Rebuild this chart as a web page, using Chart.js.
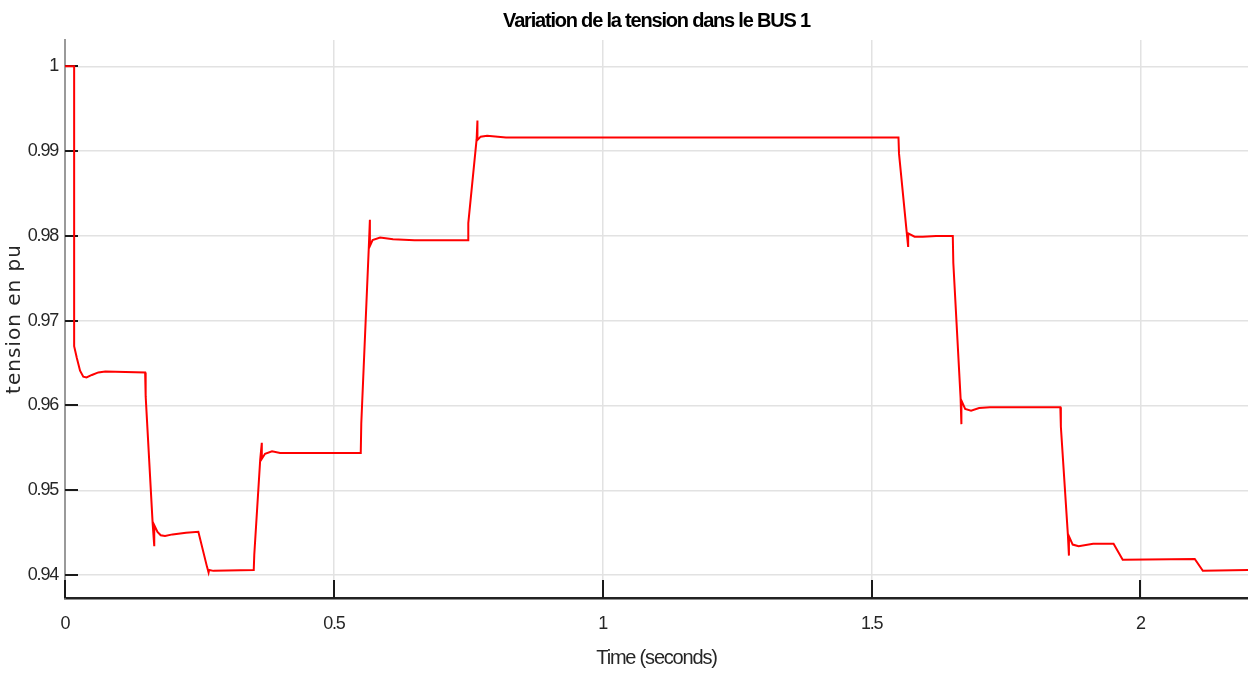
<!DOCTYPE html>
<html>
<head>
<meta charset="utf-8">
<title>Variation de la tension dans le BUS 1</title>
<script src="https://cdn.jsdelivr.net/npm/chart.js@4/dist/chart.umd.min.js"></script>
<style>
  html, body { margin: 0; padding: 0; background: #fff; }
  #chart { display: block; }
</style>
</head>
<body>
<canvas id="chart" width="1248" height="675"></canvas>
<script>
const timeSeconds = [
  0, 0.017, 0.017, 0.022, 0.028, 0.034, 0.040, 0.050, 0.062, 0.075,
  0.149, 0.150, 0.163, 0.166, 0.166, 0.172, 0.178, 0.186, 0.200, 0.225,
  0.248, 0.264, 0.267, 0.268, 0.276, 0.351, 0.352, 0.363, 0.366, 0.366,
  0.372, 0.385, 0.400, 0.550, 0.551, 0.565, 0.567, 0.567, 0.572, 0.586,
  0.610, 0.650, 0.750, 0.750, 0.7655, 0.767, 0.767, 0.773, 0.785, 0.820,
  1.550, 1.551, 1.5655, 1.568, 1.568, 1.580, 1.595, 1.620, 1.651, 1.652,
  1.6655, 1.667, 1.667, 1.674, 1.685, 1.700, 1.720, 1.851, 1.852, 1.865,
  1.867, 1.867, 1.874, 1.885, 1.912, 1.950, 1.967, 2.101, 2.116, 2.2
];
const tensionPu = [
  1.0000, 1.0000, 0.9670, 0.9656, 0.9641, 0.9634, 0.9633, 0.9636, 0.9639, 0.9640,
  0.9639, 0.9611, 0.9461, 0.9434, 0.9459, 0.9451, 0.9447, 0.9446, 0.9448, 0.9450,
  0.9451, 0.9410, 0.9403, 0.9406, 0.9405, 0.9406, 0.9424, 0.9536, 0.9556, 0.9537,
  0.9543, 0.9546, 0.9544, 0.9544, 0.9579, 0.9787, 0.9819, 0.9788, 0.9795, 0.9798,
  0.9796, 0.9795, 0.9795, 0.9815, 0.9914, 0.9936, 0.9913, 0.9917, 0.9918, 0.9916,
  0.9916, 0.9897, 0.9803, 0.9787, 0.9803, 0.9799, 0.9799, 0.9800, 0.9800, 0.9768,
  0.9609, 0.9578, 0.9606, 0.9596, 0.9594, 0.9597, 0.9598, 0.9598, 0.9575, 0.9448,
  0.9423, 0.9446, 0.9436, 0.9434, 0.9437, 0.9437, 0.9418, 0.9419, 0.9405, 0.9406
];

const xTickValues = [0, 0.5, 1, 1.5, 2];
const xTickLabels = ['0', '0.5', '1', '1.5', '2'];
const yTickValues = [0.94, 0.95, 0.96, 0.97, 0.98, 0.99, 1];
const yTickLabels = ['0.94', '0.95', '0.96', '0.97', '0.98', '0.99', '1'];

const labelFont = '"Liberation Sans", Arial, sans-serif';

// no narrow font installed, so tighten the letters a bit;
// the y axis title is the other way round, wide and airy
const tightText = {
  id: 'tightText',
  beforeUpdate(chart) { chart.ctx.letterSpacing = '-1.2px'; },
  beforeDraw(chart) {
    chart.ctx.letterSpacing = '-1.2px';
    const yScale = chart.scales.y;
    if (!yScale._wideTitle) {
      const drawTitle = yScale.drawTitle;
      yScale.drawTitle = function () {
        const prev = this.ctx.letterSpacing;
        this.ctx.letterSpacing = '1px';
        drawTitle.call(this);
        this.ctx.letterSpacing = prev;
      };
      yScale._wideTitle = true;
    }
  }
};

// MATLAB style tick marks, drawn inward from the axes
const insideTicks = {
  id: 'insideTicks',
  beforeDatasetsDraw(chart) {
    const { ctx, chartArea, scales } = chart;
    ctx.save();
    ctx.strokeStyle = '#1a1a1a';
    ctx.lineWidth = 2;
    ctx.beginPath();
    yTickValues.forEach((v) => {
      const y = Math.round(scales.y.getPixelForValue(v));
      ctx.moveTo(chartArea.left, y);
      ctx.lineTo(chartArea.left + 13, y);
    });
    xTickValues.forEach((v) => {
      const x = Math.round(scales.x.getPixelForValue(v));
      ctx.moveTo(x, chartArea.bottom);
      ctx.lineTo(x, chartArea.bottom - 18);
    });
    ctx.stroke();
    ctx.restore();
  }
};

new Chart(document.getElementById('chart'), {
  type: 'line',
  data: {
    datasets: [{
      label: 'BUS 1',
      data: timeSeconds.map((t, i) => ({ x: t, y: tensionPu[i] })),
      borderColor: '#ff0000',
      borderWidth: 2,
      pointRadius: 0,
      tension: 0,
      fill: false
    }]
  },
  options: {
    responsive: false,
    animation: false,
    layout: { padding: 0 },
    plugins: {
      legend: { display: false },
      tooltip: { enabled: false },
      title: {
        display: true,
        fullSize: false,
        text: 'Variation de la tension dans le BUS 1',
        color: '#000',
        font: { family: labelFont, size: 20, weight: 'bold', lineHeight: 1.2 },
        padding: { top: 9, bottom: 7 }
      }
    },
    scales: {
      x: {
        type: 'linear',
        min: 0,
        max: 2.2,
        afterBuildTicks: (scale) => { scale.ticks = xTickValues.map((v) => ({ value: v })); },
        afterFit: (scale) => { scale.height = 77; },
        ticks: {
          color: '#262626',
          padding: 15,
          maxRotation: 0,
          font: { family: labelFont, size: 18 },
          callback: (value) => xTickLabels[xTickValues.indexOf(value)]
        },
        grid: { color: '#e2e2e2', lineWidth: 1.5, drawTicks: false },
        border: { color: '#222', width: 2.5 },
        title: {
          display: true,
          text: 'Time (seconds)',
          color: '#262626',
          font: { family: labelFont, size: 20, lineHeight: 1.2 },
          padding: { top: 0, bottom: 5 }
        }
      },
      y: {
        type: 'linear',
        min: 0.9373,
        max: 1.0031,
        afterBuildTicks: (scale) => { scale.ticks = yTickValues.map((v) => ({ value: v })); },
        afterFit: (scale) => { scale.width = 65; },
        ticks: {
          color: '#262626',
          padding: 7,
          font: { family: labelFont, size: 18 },
          callback: (value) => yTickLabels[yTickValues.indexOf(value)]
        },
        grid: { color: '#e2e2e2', lineWidth: 1.5, drawTicks: false },
        border: { color: '#9a9a9a', width: 2 },
        title: {
          display: true,
          text: 'tension en pu',
          color: '#262626',
          font: { family: '"DejaVu Sans", sans-serif', size: 20, lineHeight: 1.2 },
          padding: { top: 3, bottom: 0 }
        }
      }
    }
  },
  plugins: [tightText, insideTicks]
});
</script>
</body>
</html>
